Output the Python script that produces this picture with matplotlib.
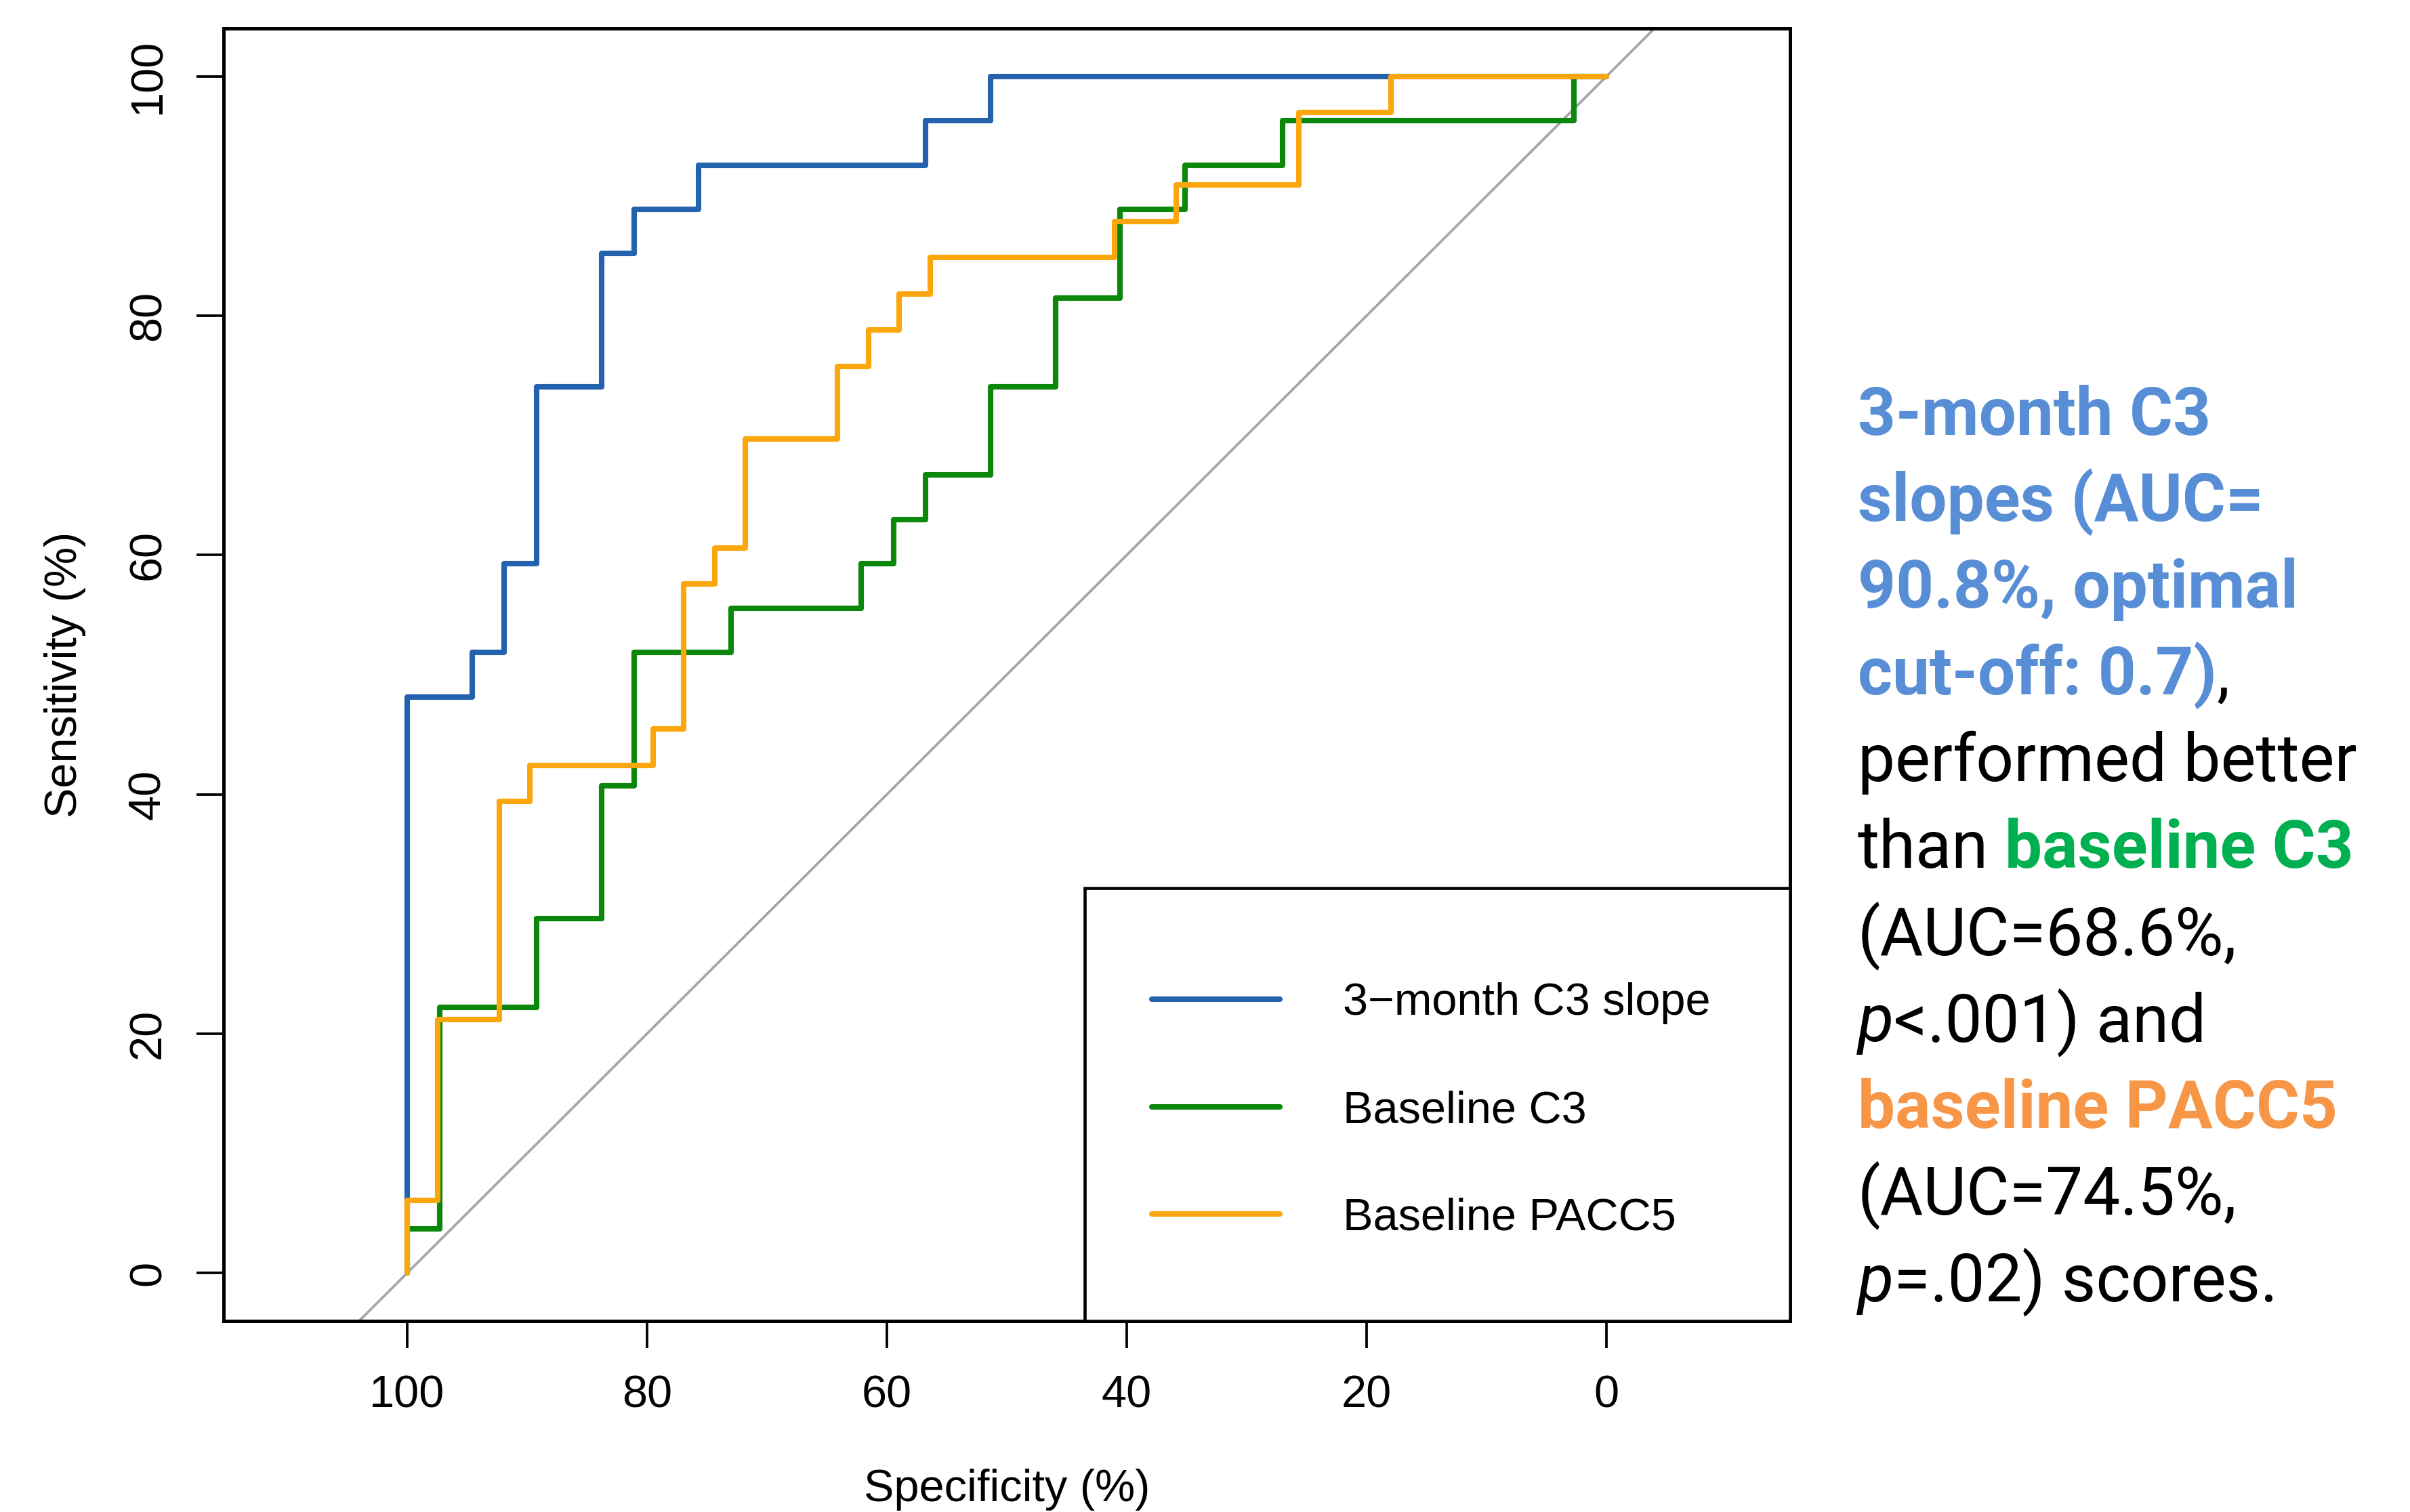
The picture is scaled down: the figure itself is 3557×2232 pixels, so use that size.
import matplotlib
matplotlib.use("Agg")
import matplotlib.pyplot as plt
from matplotlib.transforms import IdentityTransform
from matplotlib.patches import Rectangle

W, H, DPI = 3557, 2232, 300

# ---------------- data ----------------
series_names = ["3\u2212month C3 slope", "Baseline C3", "Baseline PACC5"]
series_colors = ["#2462AE", "#0B870B", "#FBA60C"]

slope_spec = [100, 94.59, 91.89, 89.19, 83.78, 81.08, 75.68, 56.76, 51.35, 0]
slope_sens = [0, 48.15, 51.85, 59.26, 74.07, 85.19, 88.89, 92.59, 96.30, 100]

c3_spec = [100, 97.30, 89.19, 83.78, 81.08, 72.97, 62.16, 59.46, 56.76, 51.35,
           45.95, 40.54, 35.14, 27.03, 2.70, 0]
c3_sens = [0, 3.70, 22.22, 29.63, 40.74, 51.85, 55.56, 59.26, 62.96, 66.67,
           74.07, 81.48, 88.89, 92.59, 96.30, 100]

pacc_spec = [100, 97.44, 92.31, 89.74, 79.49, 76.92, 74.36, 71.79, 64.10, 61.54,
             58.97, 56.41, 41.03, 35.90, 25.64, 17.95, 0]
pacc_sens = [0, 6.06, 21.21, 39.39, 42.42, 45.45, 57.58, 60.61, 69.70, 75.76,
             78.79, 81.82, 84.85, 87.88, 90.91, 96.97, 100]

x_ticks = [100, 80, 60, 40, 20, 0]
y_ticks = [0, 20, 40, 60, 80, 100]
x_label = "Specificity (%)"
y_label = "Sensitivity (%)"

BLUE_T, GREEN_T, ORANGE_T, BLACK = "#588ED6", "#00B050", "#F79646", "#000000"
annotation_lines = [
    [("3-month C3", "bold", BLUE_T)],
    [("slopes (AUC=", "bold", BLUE_T)],
    [("90.8%, optimal", "bold", BLUE_T)],
    [("cut-off: 0.7)", "bold", BLUE_T), (",", "normal", BLACK)],
    [("performed better", "normal", BLACK)],
    [("than", "normal", BLACK), (" ", "space", BLACK), ("baseline C3", "bold", GREEN_T)],
    [("(AUC=68.6%,", "normal", BLACK)],
    [("p", "italic", BLACK), ("<.001) and", "normal", BLACK)],
    [("baseline PACC5", "bold", ORANGE_T)],
    [("(AUC=74.5%,", "normal", BLACK)],
    [("p", "italic", BLACK), ("=.02) scores.", "normal", BLACK)],
]

# ---------------- figure ----------------
plt.rcParams["font.family"] = ["Liberation Sans", "DejaVu Sans"]
fig = plt.figure(figsize=(W / DPI, H / DPI), dpi=DPI)
ax_l, ax_r, ax_t, ax_b = 330, 2642, 42, 1950
ax = fig.add_axes([ax_l / W, 1 - ax_b / H, (ax_r - ax_l) / W, (ax_b - ax_t) / H])
ax.set_xlim(115.3, -15.3)
ax.set_ylim(-4, 104)

ax.axline((100, 0), (0, 100), color="#A6A6A6", lw=0.9, zorder=1)
for spec, sens, col, name in zip([slope_spec, c3_spec, pacc_spec],
                                 [slope_sens, c3_sens, pacc_sens],
                                 series_colors, series_names):
    ax.plot(spec, sens, drawstyle="steps-pre", color=col, lw=1.95,
            solid_capstyle="round", solid_joinstyle="round", label=name, zorder=2)

for sp in ax.spines.values():
    sp.set_linewidth(1.2)
ax.set_xticks(x_ticks)
ax.set_xticklabels([str(v) for v in x_ticks])
ax.set_yticks(y_ticks)
ax.set_yticklabels([str(v) for v in y_ticks], rotation=90, va="center")
ax.tick_params(axis="both", direction="out", length=9.6, width=0.9, pad=9.5,
               labelsize=16)

ax.set_xlabel(x_label, fontsize=16)
ax.set_ylabel(y_label, fontsize=16)
ax.xaxis.set_label_coords(0.5, (ax_b - 2168) / (ax_b - ax_t))
ax.yaxis.set_label_coords((127 - ax_l) / (ax_r - ax_l), 0.5)

# legend box (R style, bottom right)
lg_left, lg_top = 1601, 1311
rect = Rectangle(((lg_left - ax_l) / (ax_r - ax_l), 0),
                 1 - (lg_left - ax_l) / (ax_r - ax_l),
                 (ax_b - lg_top) / (ax_b - ax_t),
                 transform=ax.transAxes, facecolor="white", edgecolor="black",
                 lw=1.1, zorder=5, clip_on=False)
ax.add_patch(rect)
leg = ax.legend(loc="center left",
                bbox_to_anchor=((1667 - ax_l) / (ax_r - ax_l), (ax_b - 1640) / (ax_b - ax_t)),
                frameon=False, borderpad=0, handlelength=2.83, handletextpad=1.4,
                labelspacing=1.45, fontsize=16)
leg.set_zorder(6)

# ---------------- right-hand annotation ----------------
fig.canvas.draw()
renderer = fig.canvas.get_renderer()
txt_size = 23.5
txt_family = ["Roboto", "DejaVu Sans"]
base_x = 2742
first_base, pitch = 641.6, 127.9


def mk(x, y, s, style, col):
    weight = "bold" if style == "bold" else "normal"
    fstyle = "italic" if style == "italic" else "normal"
    return fig.text(x, y, s, transform=IdentityTransform(), fontsize=txt_size,
                    family=txt_family, weight=weight, style=fstyle, color=col,
                    ha="left", va="baseline")


# width of a space
t1 = mk(0, 0, "x x", "normal", BLACK)
t2 = mk(0, 0, "xx", "normal", BLACK)
space_w = t1.get_window_extent(renderer).width - t2.get_window_extent(renderer).width
t1.remove()
t2.remove()

for i, pieces in enumerate(annotation_lines):
    y = H - (first_base + i * pitch)
    x = base_x
    for s, style, col in pieces:
        if style == "space":
            x += space_w
            continue
        t = mk(x, y, s, style, col)
        x += t.get_window_extent(renderer).width

fig.savefig("out.png", dpi=DPI)
